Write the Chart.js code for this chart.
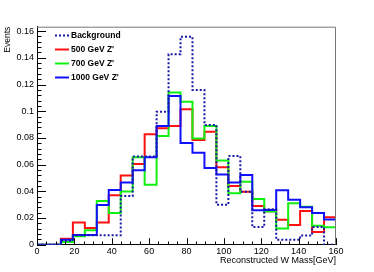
<!DOCTYPE html>
<html>
<head>
<meta charset="utf-8">
<script src="https://cdn.jsdelivr.net/npm/chart.js@4"></script>
<style>
    html, body { margin: 0; padding: 0; background: #fff; }
    #wrap { width: 374px; height: 272px; }
</style>
</head>
<body>
<div id="wrap"><canvas id="chart" width="374" height="272"></canvas></div>
<script>
// Histogram bin edges (GeV), 25 bins from 0 to 160
const binEdges = [0, 6.4, 12.8, 19.2, 25.6, 32, 38.4, 44.8, 51.2, 57.6, 64, 70.4, 76.8,
    83.2, 89.6, 96, 102.4, 108.8, 115.2, 121.6, 128, 134.4, 140.8, 147.2, 153.6, 160];

// Bin contents
const background = [0, 0, 0.003, 0.007, 0.007, 0.007, 0.007, 0.0365, 0.066, 0.066, 0.0996, 0.1426, 0.1558,
    0.1159, 0.0897, 0.030, 0.0664, 0.0397, 0.0132, 0.0265, 0.0037, 0.0037, 0.0068, 0.0132, 0];
const zp500 = [0, 0, 0.0045, 0.0167, 0.0125, 0.0167, 0.037, 0.0518, 0.0604, 0.0827, 0.0872, 0.0889, 0.1014,
    0.0784, 0.0847, 0.058, 0.044, 0.0397, 0.029, 0.025, 0.0187, 0.0147, 0.0252, 0.0095, 0.0205];
const zp700 = [0, 0, 0.002, 0.0063, 0.0108, 0.0327, 0.0238, 0.0398, 0.0655, 0.045, 0.0814, 0.1141, 0.1071,
    0.0795, 0.0889, 0.0631, 0.0385, 0.0472, 0.0343, 0.0248, 0.0122, 0.031, 0.0285, 0.0142, 0.013];
const zp1000 = [0, 0, 0.0038, 0.0073, 0.0073, 0.0298, 0.0409, 0.0465, 0.0558, 0.0655, 0.0889, 0.1114, 0.0762,
    0.0689, 0.0574, 0.0525, 0.0465, 0.0522, 0.0258, 0.026, 0.0407, 0.0337, 0.028, 0.0238, 0.0188];

const seriesLabels = ['Background', '500 GeV Z\'', '700 GeV Z\'', '1000 GeV Z\''];

// Axis ticks
const xTicks = [0, 20, 40, 60, 80, 100, 120, 140, 160];
const yTicks = [0, 0.02, 0.04, 0.06, 0.08, 0.1, 0.12, 0.14, 0.16];
const yTickLabels = ['0', '0.02', '0.04', '0.06', '0.08', '0.1', '0.12', '0.14', '0.16'];

const FONT = 'Liberation Sans';

// step histogram: one point per left edge (held until the next one), plus the closing edge
function toSteps(values) {
    const pts = values.map((v, i) => ({ x: binEdges[i], y: v }));
    pts.push({ x: binEdges[binEdges.length - 1], y: values[values.length - 1] });
    return pts;
}

function histDataset(label, values, color, dash, order) {
    return {
        label: label,
        data: toSteps(values),
        borderColor: color,
        borderWidth: 2,
        borderDash: dash,
        stepped: 'before',
        pointRadius: 0,
        fill: false,
        order: order
    };
}

// ROOT style frame, inward ticks and the legend box
const rootDecor = {
    id: 'rootDecor',
    afterDatasetsDraw(chart) {
        const { ctx, chartArea: a, scales: { x, y } } = chart;
        ctx.save();

        // top and right frame
        ctx.strokeStyle = '#777';
        ctx.lineWidth = 1;
        ctx.beginPath();
        ctx.moveTo(a.left, a.top + 0.5);
        ctx.lineTo(a.right - 0.5, a.top + 0.5);
        ctx.lineTo(a.right - 0.5, a.bottom);
        ctx.stroke();

        // tick marks pointing into the plot
        ctx.strokeStyle = '#000';
        ctx.beginPath();
        for (let k = 0; k <= 32; k++) {
            const px = Math.round(x.getPixelForValue(k * 5)) + 0.5;
            const len = k % 4 === 0 ? 6.5 : 3.2;
            ctx.moveTo(px, a.bottom);
            ctx.lineTo(px, a.bottom - len);
        }
        for (let k = 0; k * 0.004 <= y.max; k++) {
            const py = Math.round(y.getPixelForValue(k * 0.004)) + 0.5;
            const len = k % 5 === 0 ? 9 : 4.5;
            ctx.moveTo(a.left, py);
            ctx.lineTo(a.left + len, py);
        }
        ctx.stroke();

        // legend
        const sets = chart.data.datasets;
        ctx.font = 'bold 8.5px "' + FONT + '"';
        ctx.textBaseline = 'middle';
        ctx.textAlign = 'left';
        sets.forEach((ds, i) => {
            const ly = a.top + 8.8 + i * 14;
            ctx.strokeStyle = ds.borderColor;
            ctx.lineWidth = 2;
            ctx.setLineDash(ds.borderDash || []);
            ctx.beginPath();
            ctx.moveTo(a.left + 18, ly);
            ctx.lineTo(a.left + 32, ly);
            ctx.stroke();
            ctx.setLineDash([]);
            ctx.fillStyle = '#000';
            ctx.fillText(ds.label, a.left + 34, ly);
        });
        ctx.restore();
    }
};

new Chart(document.getElementById('chart'), {
    type: 'line',
    data: {
        datasets: [
            histDataset(seriesLabels[0], background, '#1818a8', [2, 2], 0),
            histDataset(seriesLabels[1], zp500, '#ff1010', [], 3),
            histDataset(seriesLabels[2], zp700, '#10f010', [], 2),
            histDataset(seriesLabels[3], zp1000, '#1010ff', [], 1)
        ]
    },
    options: {
        responsive: false,
        animation: false,
        devicePixelRatio: 1,
        layout: { padding: { top: 26.7, right: 38, left: 0, bottom: 0 } },
        plugins: {
            legend: { display: false },
            tooltip: { enabled: false }
        },
        scales: {
            x: {
                type: 'linear',
                min: 0,
                max: 160,
                grid: { display: false, drawTicks: false },
                border: { display: true, color: '#000', width: 1 },
                afterBuildTicks: s => { s.ticks = xTicks.map(v => ({ value: v })); },
                afterFit: s => { s.height = 27.3; },
                ticks: {
                    padding: 1.5,
                    color: '#000',
                    maxRotation: 0,
                    font: { family: FONT, size: 9 },
                    callback: v => String(v)
                },
                title: {
                    display: true,
                    text: 'Reconstructed W Mass[GeV]',
                    align: 'end',
                    color: '#000',
                    font: { family: FONT, size: 9 },
                    padding: { top: 0, bottom: 6 }
                }
            },
            y: {
                type: 'linear',
                min: 0,
                max: 0.1633,
                grid: { display: false, drawTicks: false },
                border: { display: true, color: '#000', width: 1 },
                afterBuildTicks: s => { s.ticks = yTicks.map(v => ({ value: v })); },
                afterFit: s => { s.width = 37; },
                ticks: {
                    padding: 3,
                    color: '#000',
                    font: { family: FONT, size: 9 },
                    callback: (v, i) => yTickLabels[i]
                },
                title: {
                    display: true,
                    text: 'Events',
                    align: 'end',
                    color: '#000',
                    font: { family: FONT, size: 8.5 },
                    padding: { top: 2.5, bottom: 0 }
                }
            }
        }
    },
    plugins: [rootDecor]
});
</script>
</body>
</html>
